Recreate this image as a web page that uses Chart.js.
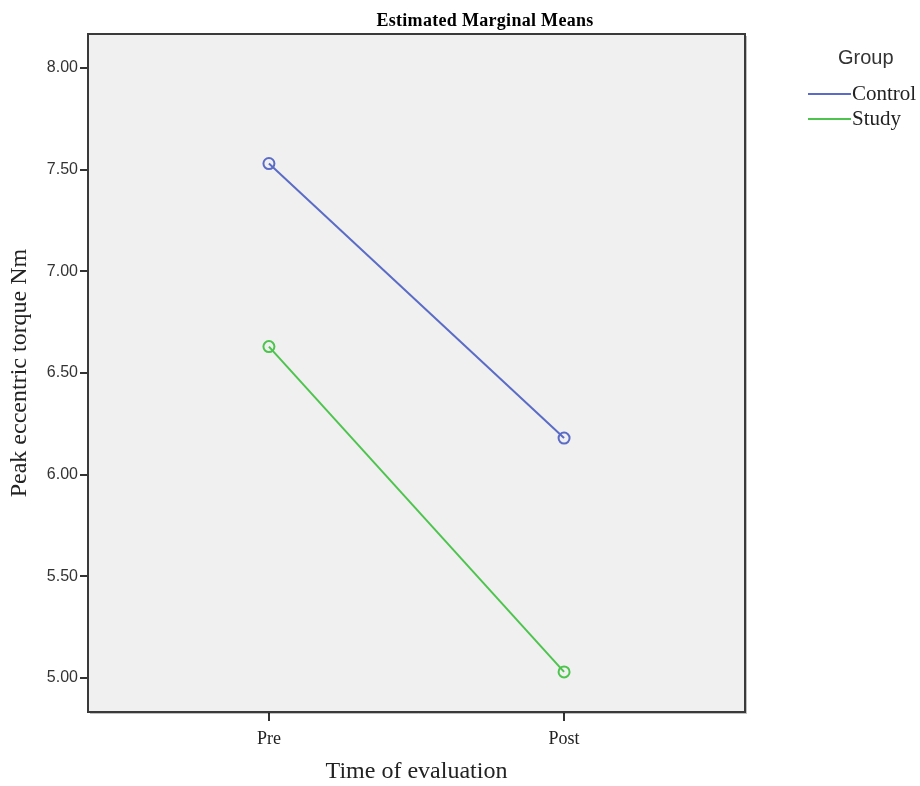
<!DOCTYPE html>
<html>
<head>
<meta charset="utf-8">
<script src="https://cdn.jsdelivr.net/npm/chart.js@4"></script>
<style>
  html, body { margin: 0; padding: 0; background: #fff; }
  #wrap { position: relative; width: 920px; height: 786px; }
  #title { position: absolute; left: 485px; top: 10px; transform: translateX(-50%);
    font: bold 18px "Liberation Serif", "DejaVu Serif", serif; color: #000; white-space: nowrap; letter-spacing: 0.3px; }
  #legend { position: absolute; left: 808px; top: 46px; font-family: "Liberation Serif", serif; color: #222; }
  #legend .lt { font: 20px "Liberation Sans", Arial, sans-serif; margin-left: 30px; margin-bottom: 12px; color: #333; }
  #legend .it { display: flex; align-items: center; height: 25px; font-size: 21px; }
  #legend .ln { width: 43px; height: 2px; margin-right: 1px; }
</style>
</head>
<body>
<div id="wrap">
  <canvas id="c" width="920" height="786"></canvas>
  <div id="title"></div>
  <div id="legend"></div>
</div>
<script>
const chartTitle = "Estimated Marginal Means";
const legendTitle = "Group";
const categories = ["Pre", "Post"];
const seriesNames = ["Control", "Study"];
const controlValues = [7.53, 6.18];
const studyValues = [6.63, 5.03];
const seriesColors = ["#5b6cc6", "#4dc44d"];
const yTickValues = [5.00, 5.50, 6.00, 6.50, 7.00, 7.50, 8.00];
const xTitle = "Time of evaluation";
const yTitle = "Peak eccentric torque Nm";

document.getElementById('title').textContent = chartTitle;
const leg = document.getElementById('legend');
leg.innerHTML = '<div class="lt">' + legendTitle + '</div>' +
  seriesNames.map((n, i) => '<div class="it"><span class="ln" style="background:' + seriesColors[i] + '"></span>' + n + '</div>').join('');

const allValues = [controlValues, studyValues];
const datasets = seriesNames.map((n, i) => ({
  label: n,
  data: categories.map((c, j) => ({ x: j, y: allValues[i][j] })),
  borderColor: seriesColors[i],
  backgroundColor: 'rgba(0,0,0,0)',
  borderWidth: 2,
  pointRadius: 5.5,
  pointBorderWidth: 2,
  pointBackgroundColor: 'rgba(0,0,0,0)',
  pointBorderColor: seriesColors[i],
  tension: 0
}));

const bgPlugin = {
  id: 'bg',
  beforeDraw(chart) {
    const a = chart.chartArea, ctx = chart.ctx;
    ctx.save();
    ctx.fillStyle = '#f0f0f0';
    ctx.fillRect(a.left, a.top, a.right - a.left, a.bottom - a.top);
    ctx.restore();
  },
  afterDraw(chart) {
    const a = chart.chartArea, ctx = chart.ctx;
    ctx.save();
    ctx.strokeStyle = '#3a3a3a';
    ctx.lineWidth = 2;
    ctx.strokeRect(a.left, a.top, a.right - a.left, a.bottom - a.top);
    ctx.strokeStyle = 'rgba(0,0,0,0.25)';
    ctx.lineWidth = 1;
    ctx.beginPath();
    ctx.moveTo(a.right + 1.5, a.top + 2);
    ctx.lineTo(a.right + 1.5, a.bottom + 1.5);
    ctx.lineTo(a.left + 2, a.bottom + 1.5);
    ctx.stroke();
    ctx.restore();
  }
};

new Chart(document.getElementById('c'), {
  type: 'line',
  data: { datasets },
  plugins: [bgPlugin],
  options: {
    responsive: false,
    animation: false,
    layout: { padding: { top: 34, right: 175, left: 0, bottom: 0 } },
    plugins: { legend: { display: false }, tooltip: { enabled: false } },
    scales: {
      x: {
        type: 'linear',
        min: -0.613,
        max: 1.613,
        afterBuildTicks(s) { s.ticks = categories.map((c, i) => ({ value: i })); },
        afterFit(s) { s.height = 74; },
        ticks: {
          callback: (v) => categories[v] ?? '',
          font: { family: "Liberation Serif", size: 18 },
          color: '#222',
          padding: 7,
          maxRotation: 0
        },
        grid: { drawOnChartArea: false, drawTicks: true, tickLength: 9, color: '#333', lineWidth: 2 },
        border: { display: true, color: '#3a3a3a', width: 2 },
        title: { display: true, text: xTitle, font: { family: "Liberation Serif", size: 24 }, color: '#222', padding: { top: 0, bottom: 0 } }
      },
      y: {
        type: 'linear',
        min: 4.833,
        max: 8.167,
        afterBuildTicks(s) { s.ticks = yTickValues.map(v => ({ value: v })); },
        afterFit(s) { s.width = 88; },
        ticks: {
          callback: (v) => Number(v).toFixed(2),
          font: { family: "Liberation Sans", size: 16 },
          color: '#333',
          padding: 2
        },
        grid: { drawOnChartArea: false, drawTicks: true, tickLength: 8, color: '#333', lineWidth: 2 },
        border: { display: true, color: '#3a3a3a', width: 2 },
        title: { display: true, text: yTitle, font: { family: "Liberation Serif", size: 24 }, color: '#222', padding: { top: 5, bottom: 0 } }
      }
    }
  }
});
</script>
</body>
</html>
